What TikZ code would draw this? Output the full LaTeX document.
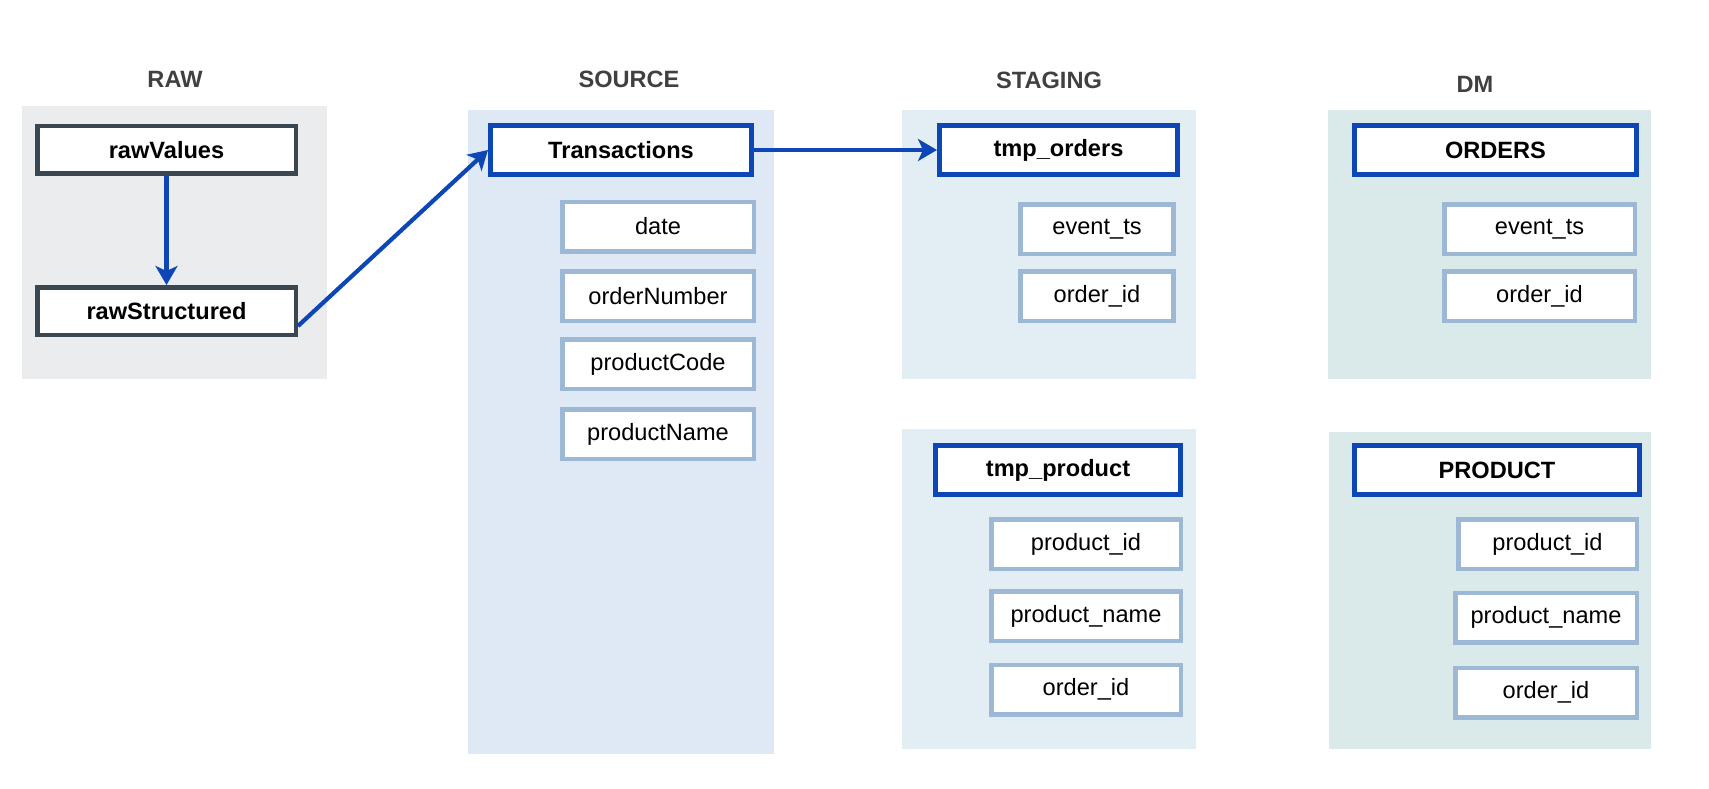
\documentclass[tikz,border=0pt]{standalone}
\usepackage{fontspec}
\setmainfont{Liberation Sans}
\usetikzlibrary{arrows.meta}
\definecolor{rawbg}{HTML}{EBECEE}
\definecolor{srcbg}{HTML}{DFE9F6}
\definecolor{stgbg}{HTML}{E2EEF3}
\definecolor{dmbg}{HTML}{DAEAEA}
\definecolor{bblue}{HTML}{0D47B6}
\definecolor{fieldb}{HTML}{9DB8D4}
\definecolor{darkb}{HTML}{3A4750}
\definecolor{ttl}{HTML}{404040}
\tikzset{
  title/.style={font=\fontsize{23.6}{28}\selectfont\bfseries, text=ttl, inner sep=0pt},
  rawbox/.style={draw=darkb, line width=4.5pt, fill=white, inner sep=0pt,
    minimum width=258.5pt, minimum height=47.5pt, font=\fontsize{23.6}{28}\selectfont\bfseries},
  tblbox/.style={draw=bblue, line width=5pt, fill=white, inner sep=0pt,
    minimum height=49pt, font=\fontsize{23.6}{28}\selectfont\bfseries},
  fieldbox/.style={draw=fieldb, line width=4.5pt, fill=white, inner sep=0pt,
    minimum height=49.5pt, font=\fontsize{23.6}{28}\selectfont},
  flow/.style={draw=bblue, line width=4.2pt, -{Stealth[length=19pt 0, width=22pt 0, inset=5pt 0]}}
}
\begin{document}
\begin{tikzpicture}[x=1pt, y=-1pt]
\useasboundingbox (0,0) rectangle (1709,789);
% backgrounds
\fill[rawbg] (22,106) rectangle (327,379);
\fill[srcbg] (468,110) rectangle (774,754);
\fill[stgbg] (902,110) rectangle (1196,379);
\fill[dmbg] (1328,110) rectangle (1651,379);
\fill[stgbg] (902,429) rectangle (1196,749);
\fill[dmbg] (1329,432) rectangle (1651,749);
% titles
\node[title] (tRaw) at (175,79) {RAW};
\node[title] (tSrc) at (629,79) {SOURCE};
\node[title] (tStg) at (1049,80) {STAGING};
\node[title] (tDm) at (1475,84) {DM};
% RAW
\node[rawbox] (rawValues) at (166.5,150) {rawValues};
\node[rawbox] (rawStructured) at (166.5,311) {rawStructured};
% SOURCE
\node[tblbox, minimum width=261pt] (trans) at (621,150) {Transactions};
\node[fieldbox, minimum width=191.5pt] (fDate) at (658,226.5) {date};
\node[fieldbox, minimum width=191.5pt] (fOrderNumber) at (658,296) {orderNumber};
\node[fieldbox, minimum width=191.5pt] (fProductCode) at (658,364) {productCode};
\node[fieldbox, minimum width=191.5pt] (fProductName) at (658,434) {productName};
% STAGING
\node[tblbox, minimum width=238pt] (tmpOrders) at (1058.5,150) {tmp\_orders};
\node[fieldbox, minimum width=153pt] (sEvent) at (1097,229) {event\_ts};
\node[fieldbox, minimum width=153pt] (sOrderId) at (1097,296) {order\_id};
\node[tblbox, minimum width=245pt] (tmpProduct) at (1058,470) {tmp\_product};
\node[fieldbox, minimum width=189.5pt] (sProdId) at (1086,544) {product\_id};
\node[fieldbox, minimum width=189.5pt] (sProdName) at (1086,616) {product\_name};
\node[fieldbox, minimum width=189.5pt] (sProdOrder) at (1086,689.5) {order\_id};
% DM
\node[tblbox, minimum width=282pt] (orders) at (1495.5,150) {ORDERS};
\node[fieldbox, minimum width=190.5pt] (dEvent) at (1539.5,229) {event\_ts};
\node[fieldbox, minimum width=190.5pt] (dOrderId) at (1539.5,296) {order\_id};
\node[tblbox, minimum width=285pt] (product) at (1497,470) {PRODUCT};
\node[fieldbox, minimum width=178.5pt] (dProdId) at (1547.5,544) {product\_id};
\node[fieldbox, minimum width=181.5pt] (dProdName) at (1546,617.5) {product\_name};
\node[fieldbox, minimum width=181.5pt] (dProdOrder) at (1546,692.5) {order\_id};
% connectors
\draw[flow] (rawValues) -- (rawStructured);
\draw[flow] ([yshift=-15pt]rawStructured.east) -- (trans.west);
\draw[flow] (trans.east) -- (tmpOrders.west);
\end{tikzpicture}
\end{document}
